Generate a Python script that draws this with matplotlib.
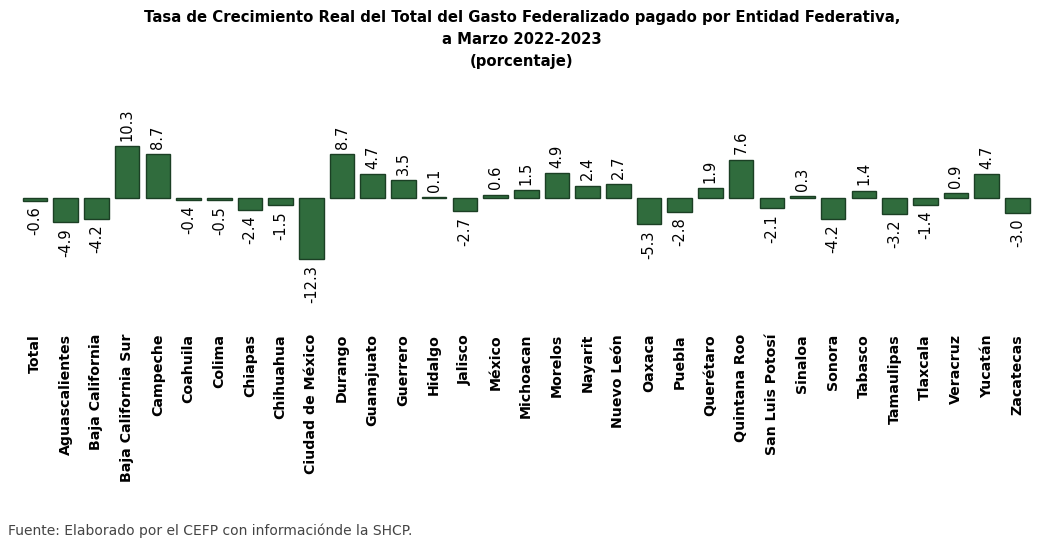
import matplotlib
matplotlib.use("Agg")
import matplotlib.pyplot as plt

# Data
estados = ['Total', 'Aguascalientes', 'Baja California', 'Baja California Sur', 'Campeche',
           'Coahuila', 'Colima', 'Chiapas', 'Chihuahua', 'Ciudad de México', 'Durango',
           'Guanajuato', 'Guerrero', 'Hidalgo', 'Jalisco', 'México', 'Michoacan', 'Morelos',
           'Nayarit', 'Nuevo León', 'Oaxaca', 'Puebla', 'Querétaro', 'Quintana Roo',
           'San Luis Potosí', 'Sinaloa', 'Sonora', 'Tabasco', 'Tamaulipas', 'Tlaxcala',
           'Veracruz', 'Yucatán', 'Zacatecas']
crecimiento = [-0.6, -4.9, -4.2, 10.3, 8.7, -0.4, -0.5, -2.4, -1.5, -12.3, 8.7, 4.7, 3.5,
               0.1, -2.7, 0.6, 1.5, 4.9, 2.4, 2.7, -5.3, -2.8, 1.9, 7.6, -2.1, 0.3, -4.2,
               1.4, -3.2, -1.4, 0.9, 4.7, -3.0]

titulo = ("Tasa de Crecimiento Real del Total del Gasto Federalizado pagado por Entidad Federativa,\n"
          "a Marzo 2022-2023\n(porcentaje)")
fuente = "Fuente: Elaborado por el CEFP con informaciónde la SHCP."

BAR_COLOR = '#306c3d'
EDGE_COLOR = '#1b3f24'


def main():
  fig = plt.figure(figsize=(10.44, 5.42), dpi=100)
  ax = fig.add_axes([0.0189, 0.4096, 0.9703, 0.406])

  x = list(range(len(estados)))
  ax.bar(x, crecimiento, width=0.8, color=BAR_COLOR, edgecolor=EDGE_COLOR, linewidth=1.0)

  # Value labels
  for xi, v in zip(x, crecimiento):
    if v >= 0:
      ax.annotate(f"{v:.1f}", (xi, v), xytext=(0, 4), textcoords='offset points',
                  rotation=90, ha='center', va='bottom', fontsize=10.5)
    else:
      ax.annotate(f"{v:.1f}", (xi, v), xytext=(0, -4), textcoords='offset points',
                  rotation=90, ha='center', va='top', fontsize=10.5)

  ax.set_xlim(-0.5, len(estados) - 0.5)
  ax.set_ylim(-24.4, 19.6)
  ax.set_yticks([])
  ax.set_xticks(x)
  ax.set_xticklabels(estados, rotation=90, fontsize=10.2, fontweight='bold', va='top')
  ax.tick_params(axis='x', length=0, pad=10)
  for s in ax.spines.values():
    s.set_visible(False)

  fig.text(0.5, 0.982, titulo, ha='center', va='top', fontsize=10.7, fontweight='bold',
           linespacing=1.6)
  fig.text(0.008, 0.008, fuente, ha='left', va='bottom', fontsize=10, color='#444444')

  fig.savefig('out.png', dpi=100)


if __name__ == "__main__":
  main()
